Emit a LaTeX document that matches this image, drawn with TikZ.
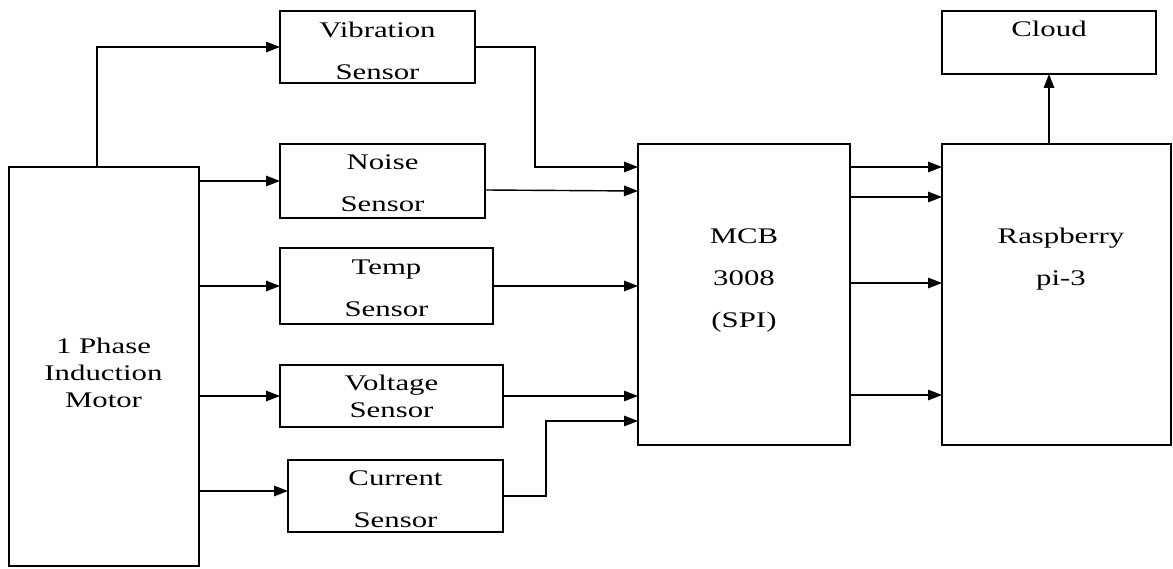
\documentclass[tikz,border=0pt]{standalone}
\usepackage{fontspec}
\setmainfont{Liberation Serif}[FakeStretch=1.38]
\usepackage{tikz}
\usetikzlibrary{arrows.meta,positioning,calc}

\tikzset{
  blk/.style={draw, line width=0.8pt, rectangle, inner sep=0pt, outer sep=0pt, anchor=north west},
  lbl/.style={align=center, font=\fontsize{12.7}{23.9}\selectfont, inner sep=0pt},
  lbltight/.style={align=center, font=\fontsize{12.7}{15.4}\selectfont, inner sep=0pt},
  arr/.style={line width=0.8pt, -{Triangle[length=0.28cm,width=0.21cm]}}
}

\begin{document}
\begin{tikzpicture}[x=1cm,y=1cm]
  \useasboundingbox (0,0) rectangle (23.46,-11.38);

  % blocks
  \node[blk, minimum width=3.8cm,  minimum height=7.98cm] (motor) at (0.18,-3.34)  {};
  \node[blk, minimum width=3.9cm,  minimum height=1.44cm] (vib)   at (5.60,-0.22)  {};
  \node[blk, minimum width=4.1cm,  minimum height=1.48cm] (noise) at (5.60,-2.88)  {};
  \node[blk, minimum width=4.26cm, minimum height=1.52cm] (temp)  at (5.60,-4.96)  {};
  \node[blk, minimum width=4.46cm, minimum height=1.24cm] (volt)  at (5.60,-7.30)  {};
  \node[blk, minimum width=4.3cm,  minimum height=1.44cm] (curr)  at (5.76,-9.20)  {};
  \node[blk, minimum width=4.24cm, minimum height=6.02cm] (mcb)   at (12.76,-2.88) {};
  \node[blk, minimum width=4.58cm, minimum height=6.02cm] (rpi)   at (18.84,-2.88) {};
  \node[blk, minimum width=4.28cm, minimum height=1.26cm] (cloud) at (18.84,-0.22) {};

  % texts
  \node[lbltight] (motor-t) at (2.07,-7.46)  {1 Phase\\Induction\\Motor};
  \node[lbl]      (vib-t)   at (7.55,-1.02)  {Vibration\\Sensor};
  \node[lbl]      (noise-t) at (7.65,-3.67)  {Noise\\Sensor};
  \node[lbl]      (temp-t)  at (7.73,-5.76)  {Temp\\Sensor};
  \node[lbltight] (volt-t)  at (7.83,-7.93)  {Voltage\\Sensor};
  \node[lbl]      (curr-t)  at (7.91,-9.98)  {Current\\Sensor};
  \node[lbl]      (mcb-t)   at (14.88,-5.60) {MCB\\3008\\(SPI)};
  \node[lbl]      (rpi-t)   at (21.22,-5.18) {Raspberry\\pi-3};
  \node[lbl]      (cloud-t) at (20.98,-0.58) {Cloud};

  % motor to sensors
  \draw[arr] ($(motor.north)+(-0.14,0)$) |- (vib.west);
  \draw[arr] (motor.east |- noise.west) -- (noise.west);
  \draw[arr] (motor.east |- temp.west) -- (temp.west);
  \draw[arr] (motor.east |- volt.west) -- (volt.west);
  \draw[arr] ($(motor.east |- curr.west)+(0,0.1)$) -- ($(curr.west)+(0,0.1)$);

  % sensors to mcb
  \coordinate (vib-in)  at ($(mcb.north west)+(0,-0.46)$);
  \coordinate (curr-in) at ($(mcb.south west)+(0,0.48)$);
  \draw[arr] (vib.east) -- (10.70,-0.94) |- (vib-in);
  \draw[arr] ($(noise.east)+(0,-0.18)$) -- ($(mcb.west |- noise.east)+(0,-0.2)$);
  \draw[arr] (temp.east) -- (temp.east -| mcb.west);
  \draw[arr] (volt.east) -- (volt.east -| mcb.west);
  \draw[arr] (curr.east) -- (10.92,-9.92) |- (curr-in);

  % mcb to raspberry
  \foreach \yy in {-3.34,-3.94,-5.66,-7.90}{
    \draw[arr] (mcb.east |- 0,\yy) -- (rpi.west |- 0,\yy);
  }

  % raspberry to cloud
  \draw[arr] (cloud.south |- rpi.north) -- (cloud.south);
\end{tikzpicture}
\end{document}
